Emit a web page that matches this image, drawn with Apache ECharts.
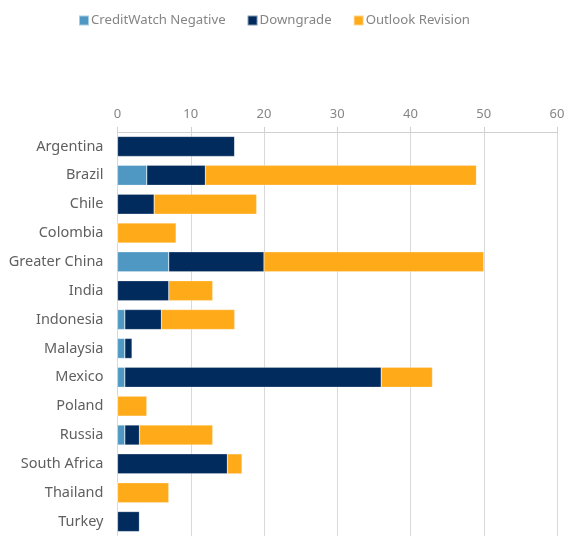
<!DOCTYPE html>
<html><head><meta charset="utf-8">
<script src="https://cdn.jsdelivr.net/npm/echarts@6/dist/echarts.min.js"></script>
<style>html,body{margin:0;padding:0;background:#fff}#c{width:568px;height:536px}</style>
</head><body><div id="c"></div>
<script>
const categories = ["Argentina","Brazil","Chile","Colombia","Greater China","India","Indonesia","Malaysia","Mexico","Poland","Russia","South Africa","Thailand","Turkey"];
const creditWatch = [0,4,0,0,7,0,1,1,1,0,1,0,0,0];
const downgrade = [16,8,5,0,13,7,5,1,35,0,2,15,0,3];
const outlook = [0,37,14,8,30,6,10,0,7,4,10,2,7,0];
const seriesNames = ["CreditWatch Negative","Downgrade","Outlook Revision"];
const colors = ["#4f98c3","#002b5c","#ffab19"];

const chart = echarts.init(document.getElementById('c'));
const mk = (name, data, color) => ({
  name, type:'bar', stack:'s', data, barWidth:20,
  itemStyle:{color, borderColor:'rgba(255,255,255,0.5)', borderWidth:0.5},
  emphasis:{disabled:true}
});
chart.setOption({
  animation:false,
  textStyle:{fontFamily:'Noto Sans'},
  legend:{top:9, left:73, itemWidth:10, itemHeight:10, itemGap:21,
    icon:'rect', textStyle:{color:'#858585', fontSize:13.2, padding:[0,0,0,-3]}},
  grid:{left:117.5, right:11, top:132, height:408, containLabel:false},
  xAxis:{type:'value', position:'top', min:0, max:60, interval:10,
    axisLine:{show:true, lineStyle:{color:'#d0d0d0'}},
    axisTick:{show:true, length:5, lineStyle:{color:'#d0d0d0'}},
    axisLabel:{color:'#858585', fontSize:13, margin:11},
    splitLine:{show:true, lineStyle:{color:'#d9d9d9'}}},
  yAxis:{type:'category', data:categories, inverse:true,
    axisLine:{show:false}, axisTick:{show:false},
    axisLabel:{color:'#5f5f5f', fontSize:14.5, margin:14}},
  series:[mk(seriesNames[0],creditWatch,colors[0]), mk(seriesNames[1],downgrade,colors[1]), mk(seriesNames[2],outlook,colors[2])]
});
</script></body></html>
